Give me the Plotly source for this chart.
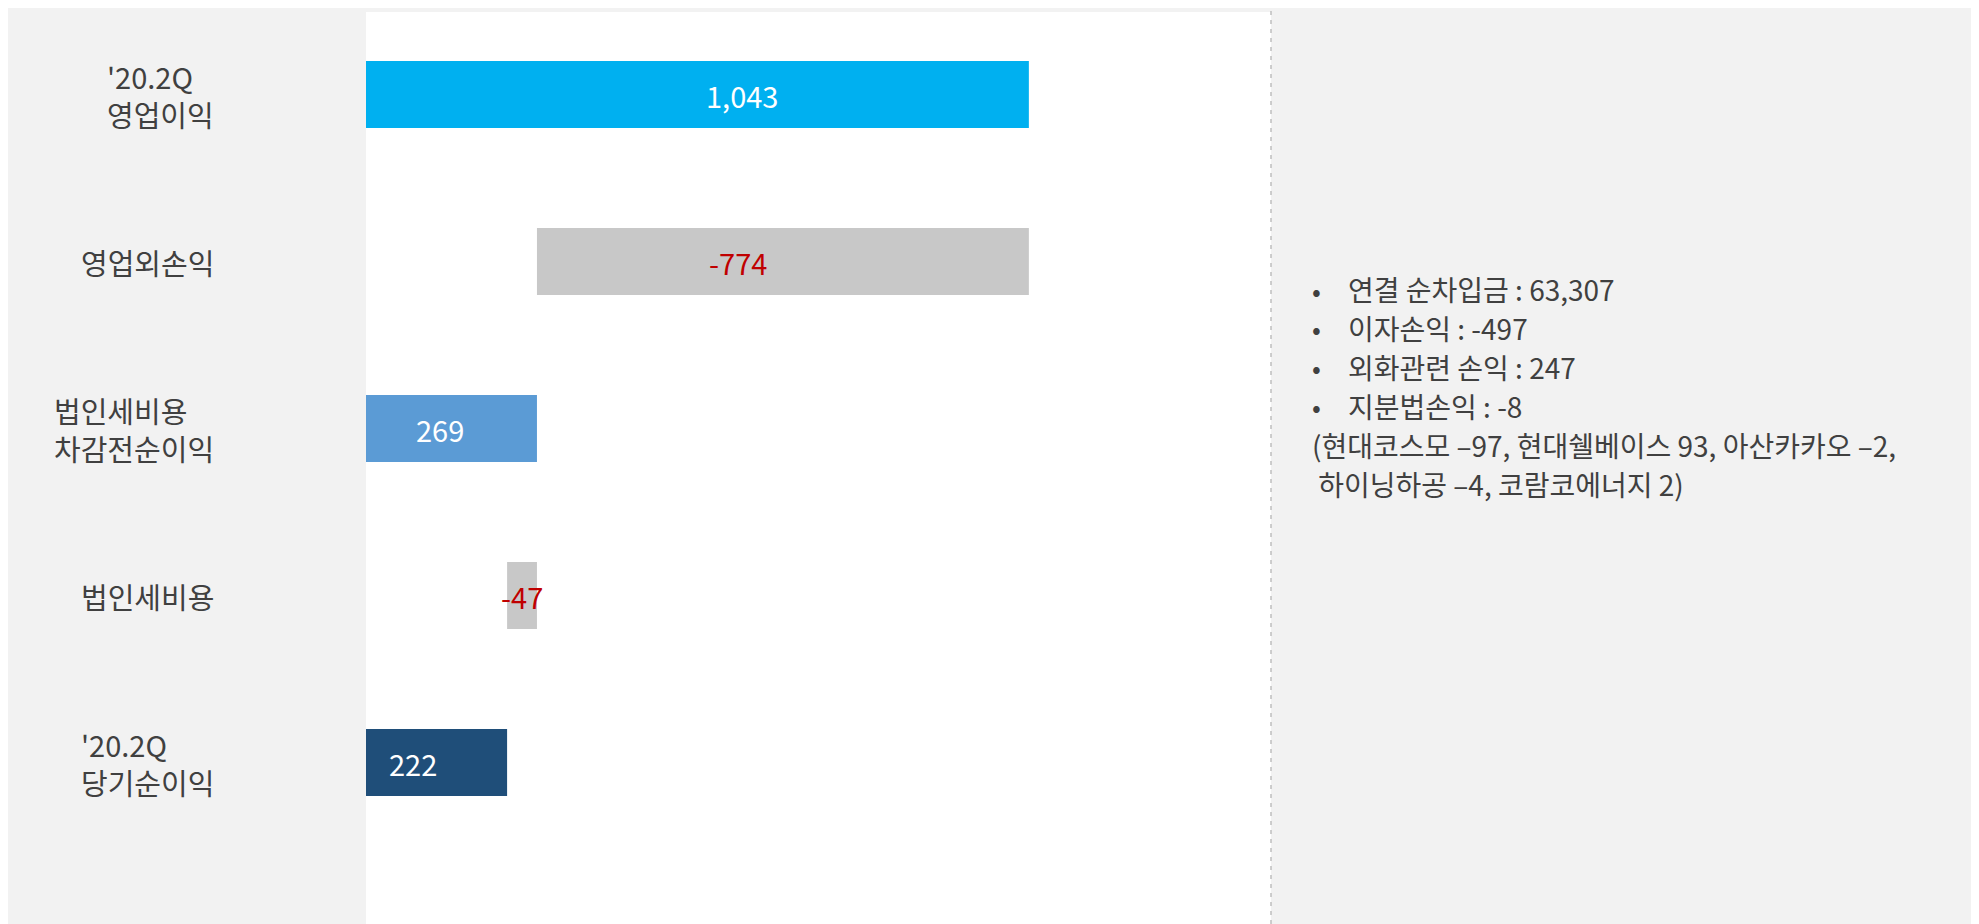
import plotly.graph_objects as go

# 항목 / 값 (억원)
categories = ["'20.2Q<br>영업이익", "영업외손익", "법인세비용<br>차감전순이익", "법인세비용", "'20.2Q<br>당기순이익"]
values = [1043, -774, 269, -47, 222]
is_total = [True, False, True, False, True]
value_labels = ["1,043", "-774", "269", "-47", "222"]

note_lines = ["연결 순차입금 : 63,307", "이자손익 : -497", "외화관련 손익 : 247", "지분법손익 : -8"]
note_detail = ["(현대코스모 –97, 현대쉘베이스 93, 아산카카오 –2,", "&nbsp;하이닝하공 –4, 코람코에너지 2)"]

bar_colors = ["#00B0F0", "#C8C8C8", "#5B9BD5", "#C8C8C8", "#1F4E79"]
label_colors = ["white", "#C00000", "white", "#C00000", "white"]
label_shift = [45, -45, -11, 0, -24]

FONT = "Noto Sans CJK KR"
TXT = "#404040"

# page is drawn with the browser's 8px body margin
W, H = 1971, 916
L, R, T, B = 358, 708, 4, 0
PW, PH = W - L - R, H - T - B
OFF = 8


def px(p):  # page x -> paper
    return (p - OFF - L) / PW


def py(p):  # page y -> paper
    return (H + OFF - B - p) / PH


# waterfall bases
bases = []
running = 0
for v, tot in zip(values, is_total):
    if tot:
        bases.append(0)
        running = v
    else:
        bases.append(running)
        running += v

ys = list(range(len(categories)))

fig = go.Figure()
fig.add_trace(go.Bar(
    y=ys, x=values, base=bases, orientation="h",
    marker=dict(color=bar_colors, line=dict(width=0)),
    width=0.4, hoverinfo="skip", showlegend=False,
))

annotations = []
for i in ys:
    mid = bases[i] + values[i] / 2
    annotations.append(dict(
        x=mid, y=i, xref="x", yref="y", text=value_labels[i], showarrow=False,
        xshift=label_shift[i], xanchor="center", yanchor="middle",
        font=dict(family=FONT, size=29, color=label_colors[i]),
    ))
    annotations.append(dict(
        x=px(216), y=i, xref="paper", yref="y", text=categories[i],
        showarrow=False, xanchor="right", yanchor="middle", align="left",
        font=dict(family=FONT, size=29, color=TXT),
    ))

step = 39 / PH
y0 = py(289)
for k, txt in enumerate(note_lines):
    yy = y0 - k * step
    annotations.append(dict(x=px(1316), y=yy, xref="paper", yref="paper", text="•",
                            showarrow=False, xanchor="center", yanchor="middle",
                            font=dict(family=FONT, size=26, color=TXT)))
    annotations.append(dict(x=px(1346), y=yy, xref="paper", yref="paper", text=txt,
                            showarrow=False, xanchor="left", yanchor="middle",
                            font=dict(family=FONT, size=28, color=TXT)))
for k, txt in enumerate(note_detail):
    yy = y0 - (len(note_lines) + k) * step
    annotations.append(dict(x=px(1310), y=yy, xref="paper", yref="paper", text=txt,
                            showarrow=False, xanchor="left", yanchor="middle",
                            font=dict(family=FONT, size=28, color=TXT)))

shapes = [
    dict(type="line", xref="paper", yref="paper", x0=1, x1=1, y0=0, y1=py(8),
         line=dict(color="#BFBFBF", width=1.5, dash="4px,5px")),
]

fig.update_layout(
    width=W, height=H,
    margin=dict(l=L, r=R, t=T, b=B),
    paper_bgcolor="#F2F2F2", plot_bgcolor="white",
    xaxis=dict(range=[0, 1424], visible=False, fixedrange=True),
    yaxis=dict(range=[4.967, -0.494], visible=False, fixedrange=True),
    annotations=annotations, shapes=shapes,
    font=dict(family=FONT),
)

fig.write_html("out.html")
